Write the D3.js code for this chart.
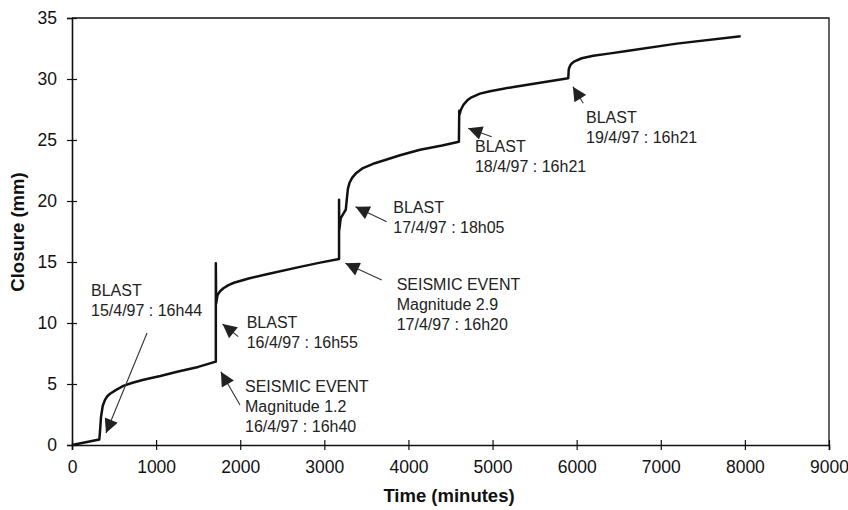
<!DOCTYPE html>
<html>
<head>
<meta charset="utf-8">
<script src="https://cdn.jsdelivr.net/npm/d3@7"></script>
<style>
  html, body { margin: 0; padding: 0; background: #fff; }
  svg { display: block; font-family: "Liberation Sans", Arial, sans-serif; }
</style>
</head>
<body>
<svg id="chart" width="848" height="510"></svg>
<script>
// Convergence (closure) record, minutes since start vs closure in mm
const timeMin = [0, 325, 335, 345, 365, 392, 420, 452, 520, 610, 720, 850, 1050, 1250, 1500, 1710,
  1710, 1714, 1730, 1760, 1800, 1860, 1925, 2100, 2315, 2711, 2950, 3175,
  3175, 3177, 3195, 3255, 3268, 3280, 3300, 3330, 3380, 3460, 3600, 3742, 3900, 4138, 4400, 4600,
  4604, 4608, 4625, 4655, 4700, 4750, 4850, 4970, 5250, 5565, 5900,
  5906, 5922, 5945, 5975, 6060, 6198, 6400, 6595, 7190, 7950];
const closureMm = [0, 0.45, 1.3, 2.3, 3.2, 3.7, 4.0, 4.2, 4.5, 4.85, 5.1, 5.35, 5.65, 6.0, 6.4, 6.83,
  14.9, 11.6, 12.3, 12.6, 12.85, 13.1, 13.3, 13.65, 14.0, 14.6, 14.95, 15.25,
  20.1, 17.6, 18.6, 19.3, 20.2, 21.0, 21.5, 21.9, 22.3, 22.7, 23.1, 23.4, 23.75, 24.2, 24.55, 24.85,
  27.4, 27.1, 27.5, 27.9, 28.25, 28.5, 28.8, 29.0, 29.35, 29.7, 30.06,
  30.8, 31.1, 31.3, 31.45, 31.7, 31.9, 32.1, 32.3, 32.9, 33.5];

const xTicks = [0, 1000, 2000, 3000, 4000, 5000, 6000, 7000, 8000, 9000];
const yTicks = [0, 5, 10, 15, 20, 25, 30, 35];

// Event notes: label lines, label anchor, arrow tail and arrow tip (data units)
const noteLines = [
  ["BLAST", "15/4/97 : 16h44"],
  ["BLAST", "16/4/97 : 16h55"],
  ["SEISMIC EVENT", "Magnitude 1.2", "16/4/97 : 16h40"],
  ["BLAST", "17/4/97 : 18h05"],
  ["SEISMIC EVENT", "Magnitude 2.9", "17/4/97 : 16h20"],
  ["BLAST", "18/4/97 : 16h21"],
  ["BLAST", "19/4/97 : 16h21"]
];
const noteAt   = [[226, 12.2], [2077, 9.59], [2057, 4.37], [3820, 18.99], [3860, 12.70], [4791, 24.04], [6111, 26.37]];
const arrowFrom = [[892, 9.18], [1977, 8.88], [1997, 3.28], [3741, 18.30], [3682, 13.52], [4990, 25.27], [6079, 28.01]];
const arrowTo   = [[404, 0.98], [1790, 9.92], [1770, 6.0], [3370, 19.53], [3250, 14.89], [4710, 25.96], [5955, 29.37]];

const svg = d3.select("#chart");
const x = d3.scaleLinear().domain([0, 9000]).range([72, 829]);
const y = d3.scaleLinear().domain([0, 35]).range([445, 18]);

// frame (top and right)
svg.append("path")
  .attr("d", `M${x(0)},${y(35)}H${x(9000)}V${y(0)}`)
  .attr("fill", "none").attr("stroke", "#111").attr("stroke-width", 1.3);

// x axis
const gx = svg.append("g").attr("transform", `translate(0,${y(0)})`)
  .call(d3.axisBottom(x).tickValues(xTicks).tickFormat(d3.format("d")).tickSizeOuter(0).tickSize(5).tickPadding(11));
gx.select(".domain").attr("stroke", "#111").attr("stroke-width", 1.6);
gx.selectAll(".tick line").attr("y1", -5).attr("y2", 5).attr("stroke", "#111").attr("stroke-width", 1.2);
gx.selectAll(".tick text").attr("font-size", 17.5).attr("fill", "#111")
  .attr("font-family", "Liberation Sans, Arial, sans-serif");

// y axis
const gy = svg.append("g").attr("transform", `translate(${x(0)},0)`)
  .call(d3.axisLeft(y).tickValues(yTicks).tickFormat(d3.format("d")).tickSizeOuter(0).tickSize(5).tickPadding(10));
gy.select(".domain").attr("stroke", "#111").attr("stroke-width", 1.6);
gy.selectAll(".tick line").attr("x1", -5).attr("x2", 5).attr("stroke", "#111").attr("stroke-width", 1.2);
gy.selectAll(".tick text").attr("font-size", 17.5).attr("fill", "#111")
  .attr("font-family", "Liberation Sans, Arial, sans-serif");

// axis titles
svg.append("text").attr("x", 449).attr("y", 502).attr("text-anchor", "middle")
  .attr("font-size", 18.5).attr("font-weight", "bold").attr("fill", "#111").text("Time (minutes)");
svg.append("text").attr("transform", "translate(24,232) rotate(-90)").attr("text-anchor", "middle")
  .attr("font-size", 18.5).attr("font-weight", "bold").attr("fill", "#111").text("Closure (mm)");

// closure curve
const pts = timeMin.map((t, i) => [t, closureMm[i]]);
svg.append("path").datum(pts)
  .attr("d", d3.line().x(d => x(d[0])).y(d => y(d[1])))
  .attr("fill", "none").attr("stroke", "#111").attr("stroke-width", 2.5)
  .attr("stroke-linejoin", "round");

// arrowhead marker
svg.append("defs").append("marker")
  .attr("id", "head").attr("viewBox", "0 0 10 10").attr("refX", 10).attr("refY", 5)
  .attr("markerUnits", "userSpaceOnUse").attr("markerWidth", 15).attr("markerHeight", 14)
  .attr("orient", "auto")
  .append("path").attr("d", "M0,0L10,5L0,10Z").attr("fill", "#222");

// event notes
noteLines.forEach((lines, i) => {
  svg.append("line")
    .attr("x1", x(arrowFrom[i][0])).attr("y1", y(arrowFrom[i][1]))
    .attr("x2", x(arrowTo[i][0])).attr("y2", y(arrowTo[i][1]))
    .attr("stroke", "#333").attr("stroke-width", 1.1)
    .attr("marker-end", "url(#head)");
  const t = svg.append("text").attr("x", x(noteAt[i][0])).attr("y", y(noteAt[i][1]))
    .attr("font-size", 16).attr("fill", "#222");
  lines.forEach((s, j) => {
    t.append("tspan").attr("x", x(noteAt[i][0])).attr("dy", j === 0 ? 0 : 20).text(s);
  });
});
</script>
</body>
</html>
